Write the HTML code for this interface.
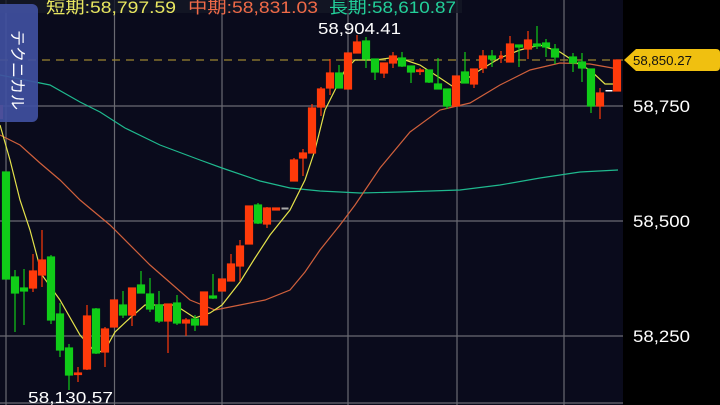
<!DOCTYPE html>
<html><head><meta charset="utf-8"><style>
html,body{margin:0;padding:0;background:#000;}
svg{display:block;font-family:"Liberation Sans","Noto Sans CJK JP",sans-serif;}
</style></head><body>
<svg width="720" height="405" viewBox="0 0 720 405" xmlns="http://www.w3.org/2000/svg">
<rect x="0" y="0" width="623" height="405" fill="#0a0b1c"/>
<rect x="623" y="0" width="97" height="405" fill="#000"/>
<g stroke="#6a6a72" stroke-width="1.2">
<line x1="0" y1="106" x2="623" y2="106"/><line x1="0" y1="221" x2="623" y2="221"/><line x1="0" y1="336" x2="623" y2="336"/><line x1="0" y1="403" x2="623" y2="403"/>
<line x1="6" y1="0" x2="6" y2="405"/><line x1="114.5" y1="0" x2="114.5" y2="405"/><line x1="222" y1="0" x2="222" y2="405"/><line x1="348" y1="0" x2="348" y2="405"/><line x1="457" y1="0" x2="457" y2="405"/><line x1="564" y1="0" x2="564" y2="405"/>
</g>
<line x1="0" y1="60" x2="623" y2="60" stroke="#9c8530" stroke-width="1.3" stroke-dasharray="8,6"/>
<polyline fill="none" stroke="#1fb98e" stroke-width="1.2" points="0,75 50,85 80,102 100,112 125,128 160,145 200,160 222,168 260,181 290,188 320,191 360,193 400,192 460,190 500,185 540,178 580,172 618,170"/>
<polyline fill="none" stroke="#d0603c" stroke-width="1.2" points="0,135 20,145 40,163 60,180 80,200 110,225 150,265 190,300 215,310 240,305 265,300 290,290 305,272 320,250 340,225 355,205 380,168 410,132 440,110 470,103 500,85 530,70 560,63 590,64 618,69"/>
<polyline fill="none" stroke="#e4e24a" stroke-width="1.2" points="0,125 10,160 20,200 30,230 42,275 60,300 80,335 96,353 105,350 115,332 130,318 145,305 160,305 175,305 195,318 210,313 222,305 240,282 255,258 270,235 290,210 305,180 315,150 325,110 335,90 345,70 355,60 375,60 390,58 405,60 420,65 440,78 452,86 465,80 480,70 500,58 520,50 540,45 560,52 575,62 590,70 605,84 618,84"/>
<g fill="#10cc18" stroke="#10cc18" stroke-width="1.2">
<rect x="2.5" y="172" width="7" height="107"/>
<line x1="15" y1="270" x2="15" y2="332"/><rect x="11.5" y="277" width="7" height="16"/>
<line x1="24" y1="269" x2="24" y2="325"/><rect x="20.5" y="288" width="7" height="3"/>
<line x1="51" y1="255" x2="51" y2="324"/><rect x="47.5" y="257" width="7" height="63"/>
<line x1="60" y1="303" x2="60" y2="357"/><rect x="56.5" y="314" width="7" height="36"/>
<line x1="69" y1="344" x2="69" y2="390"/><rect x="65.5" y="348" width="7" height="27"/>
<line x1="96" y1="308" x2="96" y2="354"/><rect x="92.5" y="309" width="7" height="44"/>
<line x1="123" y1="291" x2="123" y2="318"/><rect x="119.5" y="305" width="7" height="10"/>
<line x1="141" y1="271" x2="141" y2="293"/><rect x="137.5" y="285" width="7" height="8"/>
<line x1="150" y1="278" x2="150" y2="312"/><rect x="146.5" y="294" width="7" height="15"/>
<line x1="159" y1="291" x2="159" y2="323"/><rect x="155.5" y="305" width="7" height="16"/>
<line x1="177" y1="295" x2="177" y2="325"/><rect x="173.5" y="303" width="7" height="20"/>
<line x1="195" y1="315" x2="195" y2="331"/><rect x="191.5" y="319" width="7" height="6"/>
<line x1="213" y1="274" x2="213" y2="299"/><rect x="209.5" y="296" width="7" height="2"/>
<line x1="258" y1="203" x2="258" y2="224"/><rect x="254.5" y="205" width="7" height="18"/>
<line x1="339" y1="65" x2="339" y2="88"/><rect x="335.5" y="73" width="7" height="15"/>
<line x1="366" y1="37" x2="366" y2="68"/><rect x="362.5" y="41" width="7" height="18"/>
<line x1="375" y1="59" x2="375" y2="80"/><rect x="371.5" y="59" width="7" height="13"/>
<line x1="402" y1="52" x2="402" y2="67"/><rect x="398.5" y="58" width="7" height="8"/>
<line x1="411" y1="66" x2="411" y2="83"/><rect x="407.5" y="66" width="7" height="6"/>
<line x1="429" y1="70" x2="429" y2="83"/><rect x="425.5" y="70" width="7" height="12"/>
<line x1="438" y1="58" x2="438" y2="89"/><rect x="434.5" y="84" width="7" height="5"/>
<line x1="447" y1="89" x2="447" y2="109"/><rect x="443.5" y="89" width="7" height="17"/>
<line x1="465" y1="52" x2="465" y2="83"/><rect x="461.5" y="72" width="7" height="11"/>
<line x1="492" y1="50" x2="492" y2="67"/><rect x="488.5" y="56" width="7" height="3"/>
<line x1="519" y1="45" x2="519" y2="67"/><rect x="515.5" y="45" width="7" height="2"/>
<line x1="537" y1="26" x2="537" y2="49"/><rect x="533.5" y="44" width="7" height="2"/>
<line x1="546" y1="39" x2="546" y2="57"/><rect x="542.5" y="43" width="7" height="4"/>
<line x1="555" y1="44" x2="555" y2="64"/><rect x="551.5" y="49" width="7" height="8"/>
<line x1="573" y1="53" x2="573" y2="72"/><rect x="569.5" y="57" width="7" height="6"/>
<line x1="582" y1="53" x2="582" y2="82"/><rect x="578.5" y="62" width="7" height="6"/>
<line x1="591" y1="69" x2="591" y2="113"/><rect x="587.5" y="69" width="7" height="37"/>
</g>
<g fill="#ff3a0a" stroke="#ff3a0a" stroke-width="1.2">
<rect x="0" y="105" width="3" height="14" fill="#d04060" stroke="none"/>
<line x1="33" y1="254" x2="33" y2="292"/><rect x="29.5" y="271" width="7" height="17"/>
<line x1="42" y1="230" x2="42" y2="287"/><rect x="38.5" y="260" width="7" height="15"/>
<line x1="78" y1="367" x2="78" y2="382"/><rect x="74.5" y="373" width="7" height="1.5"/>
<line x1="87" y1="305" x2="87" y2="370"/><rect x="83.5" y="316" width="7" height="53"/>
<line x1="105" y1="327" x2="105" y2="367"/><rect x="101.5" y="329" width="7" height="23"/>
<rect x="110.5" y="300" width="7" height="27"/>
<line x1="132" y1="288" x2="132" y2="326"/><rect x="128.5" y="288" width="7" height="27"/>
<line x1="168" y1="304" x2="168" y2="353"/><rect x="164.5" y="304" width="7" height="17"/>
<line x1="186" y1="318" x2="186" y2="336"/><rect x="182.5" y="320" width="7" height="3"/>
<rect x="200.5" y="292" width="7" height="33"/>
<rect x="218.5" y="279" width="7" height="12"/>
<line x1="231" y1="254" x2="231" y2="281"/><rect x="227.5" y="264" width="7" height="17"/>
<line x1="240" y1="240" x2="240" y2="281"/><rect x="236.5" y="246" width="7" height="20"/>
<rect x="245.5" y="206" width="7" height="38"/>
<line x1="267" y1="207" x2="267" y2="228"/><rect x="263.5" y="208" width="7" height="16"/>
<rect x="272.5" y="208" width="7" height="2"/>
<line x1="294" y1="158" x2="294" y2="181"/><rect x="290.5" y="160" width="7" height="21"/>
<line x1="303" y1="149" x2="303" y2="176"/><rect x="299.5" y="153" width="7" height="5"/>
<line x1="312" y1="104" x2="312" y2="153"/><rect x="308.5" y="108" width="7" height="45"/>
<line x1="321" y1="87" x2="321" y2="116"/><rect x="317.5" y="89" width="7" height="18"/>
<line x1="330" y1="59" x2="330" y2="95"/><rect x="326.5" y="73" width="7" height="15"/>
<rect x="344.5" y="53" width="7" height="36"/>
<line x1="357" y1="35" x2="357" y2="53"/><rect x="353.5" y="42" width="7" height="11"/>
<line x1="384" y1="63" x2="384" y2="78"/><rect x="380.5" y="63" width="7" height="10"/>
<line x1="393" y1="52" x2="393" y2="68"/><rect x="389.5" y="56" width="7" height="7"/>
<line x1="420" y1="68" x2="420" y2="75"/><rect x="416.5" y="70" width="7" height="1.5"/>
<rect x="452.5" y="76" width="7" height="30"/>
<line x1="474" y1="69" x2="474" y2="88"/><rect x="470.5" y="69" width="7" height="15"/>
<line x1="483" y1="50" x2="483" y2="73"/><rect x="479.5" y="56" width="7" height="12"/>
<line x1="501" y1="51" x2="501" y2="63"/><rect x="499.5" y="56" width="3" height="2"/>
<line x1="510" y1="36" x2="510" y2="62"/><rect x="506.5" y="44" width="7" height="18"/>
<line x1="528" y1="31" x2="528" y2="59"/><rect x="524.5" y="40" width="7" height="9"/>
<line x1="600" y1="88" x2="600" y2="119"/><rect x="596.5" y="93" width="7" height="13"/>
<rect x="613.5" y="60" width="7" height="31"/>
</g>
<rect x="281.5" y="207.5" width="7" height="2" fill="#aaa"/>
<rect x="605.5" y="90" width="7" height="1.5" fill="#fff"/>
<rect x="0" y="0" width="462" height="13" fill="#141826" opacity="0.8"/>
<g font-size="17">
<text x="46" y="13" fill="#e8e660" textLength="130" lengthAdjust="spacingAndGlyphs">短期:58,797.59</text>
<text x="188" y="13" fill="#f06a48" textLength="130" lengthAdjust="spacingAndGlyphs">中期:58,831.03</text>
<text x="329" y="13" fill="#22d09a" textLength="127" lengthAdjust="spacingAndGlyphs">長期:58,610.87</text>
</g>
<rect x="-6" y="4" width="44" height="118" rx="6" fill="#4050a0" opacity="0.92"/>
<text x="0" y="0" font-size="16" fill="#fff" transform="translate(12,30) rotate(90)">テクニカル</text>
<text x="318" y="34" font-size="16" fill="#fff" textLength="83" lengthAdjust="spacingAndGlyphs">58,904.41</text>
<text x="28" y="403" font-size="16" fill="#fff" textLength="85" lengthAdjust="spacingAndGlyphs">58,130.57</text>
<path d="M624,60 L636,49 L716,49 Q720,49 720,53 L720,67 Q720,71 716,71 L636,71 Z" fill="#f0c010"/>
<text x="633" y="65" font-size="13" fill="#111" textLength="59" lengthAdjust="spacingAndGlyphs">58,850.27</text>
<g font-size="16.5" fill="#fff">
<text x="633" y="112" textLength="57" lengthAdjust="spacingAndGlyphs">58,750</text>
<text x="633" y="227" textLength="57" lengthAdjust="spacingAndGlyphs">58,500</text>
<text x="633" y="342" textLength="57" lengthAdjust="spacingAndGlyphs">58,250</text>
</g>
</svg>
</body></html>
